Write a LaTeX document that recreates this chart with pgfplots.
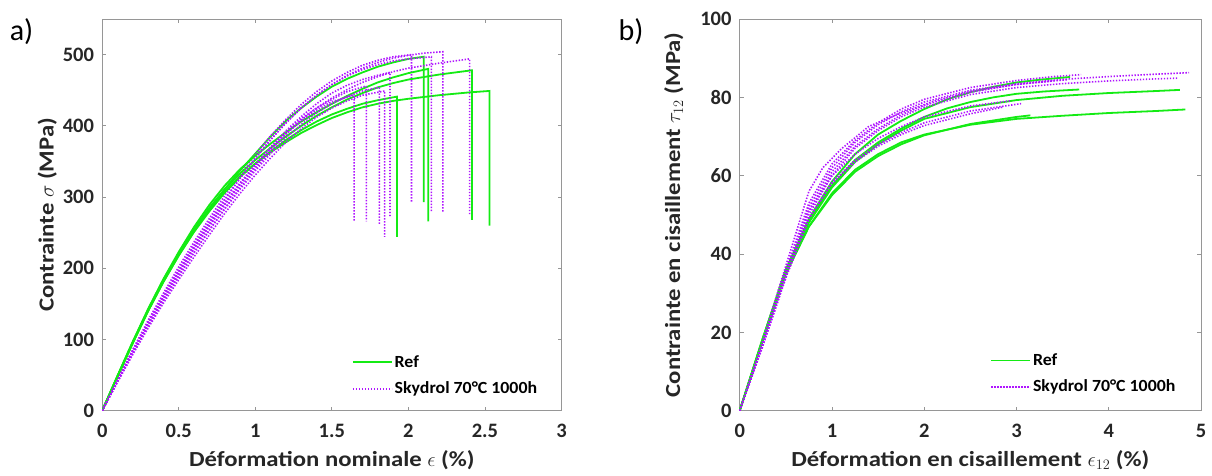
\documentclass[border=0pt]{standalone}
\usepackage{pgfplots}
\pgfplotsset{compat=1.18}
\usepackage{fontspec}
\setmainfont{Carlito}
\newfontfamily\labfont{Carlito}[FakeStretch=1.15]
\newfontfamily\legfont{Carlito}[FakeStretch=1.05]
\definecolor{refgreen}{RGB}{20,235,20}
\definecolor{skypurple}{RGB}{175,20,255}
\definecolor{framegray}{RGB}{150,150,150}
\definecolor{txt}{RGB}{38,38,38}
\tikzset{
  refl/.style={draw=refgreen, line width=1.8pt},
  skyl/.style={draw=skypurple, line width=1.6pt, dash pattern=on 1.4pt off 1.6pt},
}
\pgfplotsset{
  myaxis/.style={
    scale only axis,
    axis line style={framegray, line width=0.8pt},
    tick style={framegray, line width=0.8pt},
    tick align=inside,
    major tick length=4pt,
    /pgf/number format/assume math mode=true,
    tick label style={font=\fontsize{20.5}{24}\selectfont\bfseries, text=txt},
    yticklabel style={anchor=east, inner sep=0pt, xshift=-8pt},
    xticklabel style={anchor=north, inner sep=0pt, yshift=-13pt},
    label style={font=\fontsize{21.5}{25}\labfont\bfseries, text=txt, inner sep=0pt},
    xlabel style={at={(axis description cs:0.5,-0.143)}, anchor=base},
    legend style={draw=none, fill=none, font=\fontsize{17}{20}\legfont\bfseries,
      anchor=north west, inner sep=0pt, row sep=9pt},
    legend cell align=left,
    legend image code/.code={\draw[##1] (0pt,0pt) -- (39pt,0pt);},
  }
}
\begin{document}
\begin{tikzpicture}[x=1pt,y=1pt]
\path[use as bounding box] (0,0) rectangle (1212,475);
\node[font=\fontsize{30}{34}\selectfont, text=black, inner sep=0pt] at (21.5,443.5) {a)};
\node[font=\fontsize{30}{34}\selectfont, text=black, inner sep=0pt] at (631,443.5) {b)};
% ---------------- left axis ----------------
\begin{axis}[myaxis,
  at={(102.2pt,64.3pt)}, anchor=south west,
  width=459.3pt, height=391.7pt,
  xmin=0, xmax=3, ymin=0, ymax=550,
  xtick={0,0.5,1,1.5,2,2.5,3},
  xticklabels={0,0.5,1,1.5,2,2.5,3},
  ytick={0,100,200,300,400,500},
  xlabel={Déformation nominale $\epsilon$ (\%)},
  ylabel={Contrainte $\sigma$ (MPa)},
  ylabel style={at={(axis description cs:-0.1058,0.5)}, anchor=base},
  legend style={at={(axis description cs:0.5432,0.146)}},
]
\addplot[refl] coordinates {(0,0)(0.1,48)(0.2,95)(0.3,140)(0.4,181)(0.5,218)(0.6,252)(0.7,283)(0.8,311)(0.9,337)(1.0,361)(1.1,385)(1.2,407)(1.3,425)(1.4,441)(1.5,455)(1.6,466)(1.7,475)(1.8,483)(1.9,489)(2.0,494)(2.1,497)(2.1,293)};
\addlegendentry{Ref}
\addplot[skyl] coordinates {(0,0)(0.1,44)(0.2,86)(0.3,127)(0.4,165)(0.5,202)(0.6,237)(0.7,270)(0.8,302)(0.9,332)(1.0,360)(1.1,386)(1.2,409)(1.3,430)(1.4,448)(1.5,463)(1.6,475)(1.7,485)(1.8,492)(1.9,497)(2.02,500)(2.02,293)};
\addlegendentry{Skydrol 70°C 1000h}
\addplot[refl, forget plot] coordinates {(0,0)(0.1,49)(0.2,97)(0.3,143)(0.4,185)(0.5,223)(0.6,258)(0.7,289)(0.8,316)(0.9,339)(1.0,358)(1.1,375)(1.2,391)(1.3,406)(1.4,419)(1.5,431)(1.6,442)(1.7,452)(1.8,461)(1.9,468)(2.0,474)(2.13,480)(2.13,266)};
\addplot[refl, forget plot] coordinates {(0,0)(0.1,48)(0.2,96)(0.3,141)(0.4,183)(0.5,221)(0.6,255)(0.7,285)(0.8,311)(0.9,333)(1.0,352)(1.1,369)(1.2,385)(1.3,400)(1.4,414)(1.5,426)(1.6,437)(1.7,446)(1.8,454)(1.9,460)(2.0,465)(2.2,472)(2.415,478)(2.415,268)};
\addplot[refl, forget plot] coordinates {(0,0)(0.1,49)(0.2,97)(0.3,142)(0.4,184)(0.5,221)(0.6,254)(0.7,283)(0.8,308)(0.9,329)(1.0,347)(1.1,363)(1.2,377)(1.3,390)(1.4,401)(1.5,411)(1.6,419)(1.7,426)(1.8,431)(1.9,435)(2.0,438)(2.2,443)(2.4,447)(2.53,449)(2.53,260)};
\addplot[refl, forget plot] coordinates {(0,0)(0.1,48)(0.2,95)(0.3,140)(0.4,181)(0.5,218)(0.6,251)(0.7,280)(0.8,306)(0.9,328)(1.0,347)(1.1,364)(1.2,380)(1.3,394)(1.4,406)(1.5,416)(1.6,424)(1.7,431)(1.8,436)(1.925,441)(1.925,244)};
\addplot[skyl, forget plot] coordinates {(0,0)(0.1,42)(0.2,83)(0.3,122)(0.4,158)(0.5,193)(0.6,227)(0.7,259)(0.8,289)(0.9,317)(1.0,343)(1.1,367)(1.2,389)(1.3,407)(1.4,422)(1.5,434)(1.645,443)(1.645,267)};
\addplot[skyl, forget plot] coordinates {(0,0)(0.1,43)(0.2,85)(0.3,124)(0.4,161)(0.5,196)(0.6,230)(0.7,262)(0.8,292)(0.9,320)(1.0,346)(1.1,370)(1.2,391)(1.3,410)(1.4,425)(1.5,437)(1.6,448)(1.725,456)(1.725,266)};
\addplot[skyl, forget plot] coordinates {(0,0)(0.1,41)(0.2,81)(0.3,119)(0.4,155)(0.5,189)(0.6,222)(0.7,253)(0.8,283)(0.9,311)(1.0,337)(1.1,361)(1.2,383)(1.3,402)(1.4,418)(1.5,431)(1.6,441)(1.7,449)(1.81,454)(1.81,262)};
\addplot[skyl, forget plot] coordinates {(0,0)(0.1,40)(0.2,79)(0.3,116)(0.4,151)(0.5,184)(0.6,216)(0.7,247)(0.8,277)(0.9,305)(1.0,331)(1.1,355)(1.2,377)(1.3,396)(1.4,412)(1.5,425)(1.6,435)(1.7,443)(1.845,449)(1.845,244)};
\addplot[skyl, forget plot] coordinates {(0,0)(0.1,42)(0.2,83)(0.3,122)(0.4,159)(0.5,194)(0.6,228)(0.7,260)(0.8,290)(0.9,318)(1.0,345)(1.1,370)(1.2,393)(1.3,413)(1.4,431)(1.5,446)(1.6,457)(1.7,465)(1.8,471)(1.88,475)(1.88,273)};
\addplot[skyl, forget plot] coordinates {(0,0)(0.1,43)(0.2,84)(0.3,124)(0.4,162)(0.5,198)(0.6,233)(0.7,266)(0.8,297)(0.9,327)(1.0,355)(1.1,381)(1.2,404)(1.3,425)(1.4,443)(1.5,458)(1.6,470)(1.7,479)(1.8,486)(1.9,491)(2.0,494)(2.15,497)(2.15,280)};
\addplot[skyl, forget plot] coordinates {(0,0)(0.1,42)(0.2,83)(0.3,122)(0.4,160)(0.5,196)(0.6,231)(0.7,264)(0.8,296)(0.9,326)(1.0,354)(1.1,380)(1.2,404)(1.3,425)(1.4,443)(1.5,458)(1.6,471)(1.7,481)(1.8,489)(1.9,495)(2.0,499)(2.1,502)(2.225,504)(2.225,278)};
\addplot[skyl, forget plot] coordinates {(0,0)(0.1,41)(0.2,81)(0.3,119)(0.4,155)(0.5,189)(0.6,222)(0.7,254)(0.8,284)(0.9,313)(1.0,340)(1.1,365)(1.2,388)(1.3,408)(1.4,425)(1.5,439)(1.6,451)(1.7,461)(1.8,469)(1.9,476)(2.0,481)(2.2,488)(2.40,494)(2.40,274)};
\end{axis}
% ---------------- right axis ----------------
\begin{axis}[myaxis,
  at={(739.7pt,64.3pt)}, anchor=south west,
  width=461.3pt, height=391.7pt,
  xmin=0, xmax=5, ymin=0, ymax=100,
  xtick={0,1,2,3,4,5},
  ytick={0,20,40,60,80,100},
  xlabel={Déformation en cisaillement $\epsilon_{12}$ (\%)},
  ylabel={Contrainte en cisaillement $\tau_{12}$ (MPa)},
  ylabel style={at={(axis description cs:-0.1294,0.5)}, anchor=base},
  legend style={at={(axis description cs:0.5426,0.151)}},
]
\addplot[refl] coordinates {(0,0)(0.25,18.5)(0.5,36)(0.75,49)(1.0,58.5)(1.25,65.5)(1.5,70.5)(1.75,74)(2.0,77)(2.25,79.5)(2.5,81.3)(2.75,82.7)(3.0,83.8)(3.25,84.5)(3.58,85.2)};
\addlegendentry{Ref}
\addplot[skyl] coordinates {(0,0)(0.25,17)(0.5,35)(0.75,52)(1.0,62)(1.25,68.5)(1.5,73)(1.75,76.3)(2.0,78.8)(2.5,81.8)(3.0,83.5)(3.5,84.6)(4.0,85.3)(4.5,85.9)(4.87,86.3)};
\addlegendentry{Skydrol 70°C 1000h}
\addplot[refl, forget plot] coordinates {(0,0)(0.25,18.5)(0.5,36)(0.75,48.5)(1.0,57.5)(1.25,64)(1.5,68.5)(1.75,72)(2.0,75)(2.25,77.2)(2.5,78.8)(2.75,80)(3.0,80.9)(3.3,81.5)(3.68,82)};
\addplot[refl, forget plot] coordinates {(0,0)(0.25,18.2)(0.5,35.5)(0.75,48)(1.0,57)(1.25,63.5)(1.5,68)(1.75,71.5)(2.0,74.5)(2.5,77.5)(3.0,79.3)(3.5,80.4)(4.0,81.1)(4.5,81.6)(4.77,81.9)};
\addplot[refl, forget plot] coordinates {(0,0)(0.25,18)(0.5,35)(0.75,47)(1.0,55.5)(1.25,61.5)(1.5,65.5)(1.75,68.5)(2.0,70.5)(2.5,73)(3.0,74.5)(3.5,75.3)(4.0,76)(4.5,76.5)(4.83,76.9)};
\addplot[refl, forget plot] coordinates {(0,0)(0.25,18)(0.5,35)(0.75,47)(1.0,55)(1.25,61)(1.5,65)(1.75,68)(2.0,70.3)(2.5,73.2)(3.0,75)(3.15,75.4)};
\addplot[skyl, forget plot] coordinates {(0,0)(0.25,17)(0.5,34)(0.75,50)(1.0,60)(1.25,67)(1.5,71.5)(1.75,75)(2.0,77.5)(2.5,80.7)(3.0,82.5)(3.5,83.5)(4.0,84.2)(4.5,84.7)(4.75,84.9)};
\addplot[skyl, forget plot] coordinates {(0,0)(0.25,17.5)(0.5,36)(0.75,53)(1.0,63)(1.25,69)(1.5,73.5)(1.75,77)(2.0,79.5)(2.5,82.5)(3.0,84.3)(3.4,85.3)(3.70,85.8)};
\addplot[skyl, forget plot] coordinates {(0,0)(0.25,17)(0.5,35)(0.75,51)(1.0,61)(1.25,67.5)(1.5,72)(1.75,75.5)(2.0,78)(2.5,81.3)(3.0,83.3)(3.55,84.5)};
\addplot[skyl, forget plot] coordinates {(0,0)(0.25,16.5)(0.5,34)(0.75,49)(1.0,58.5)(1.25,64)(1.5,68)(1.75,71)(2.0,73.5)(2.5,76.5)(3.05,78.4)};
\addplot[skyl, forget plot] coordinates {(0,0)(0.25,17)(0.5,35)(0.75,51)(1.0,60)(1.25,65.5)(1.5,69.5)(1.75,72.5)(2.0,75)(2.5,77.8)(2.93,79.1)};
\addplot[skyl, forget plot] coordinates {(0,0)(0.25,16.5)(0.5,34)(0.75,49)(1.0,58)(1.25,63.5)(1.5,67.5)(1.75,70.5)(2.0,72.8)(2.5,75.8)(2.85,77.5)};
\addplot[skyl, forget plot] coordinates {(0,0)(0.25,18)(0.5,37)(0.75,56)(0.9,62)(1.1,66.8)(1.4,72.6)(1.75,76)(2.1,79)(2.5,81.5)(3.0,83.3)(3.4,84.2)};
\end{axis}
\end{tikzpicture}
\end{document}
